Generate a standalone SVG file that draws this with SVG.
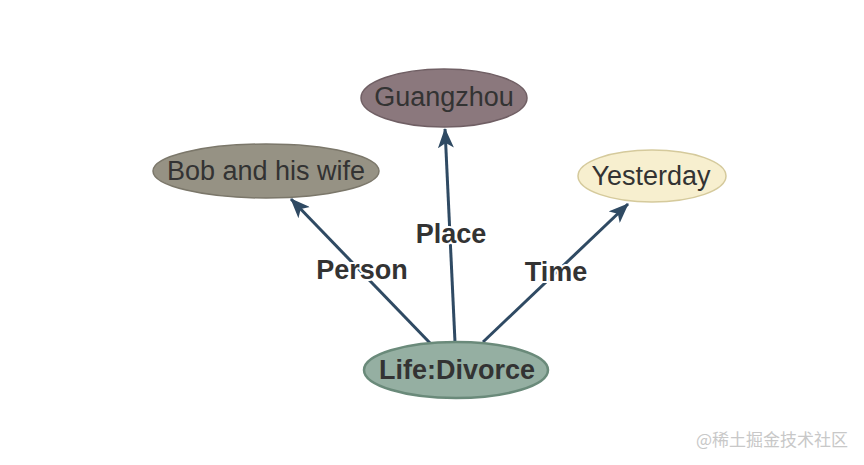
<svg xmlns="http://www.w3.org/2000/svg" width="864" height="465" viewBox="0 0 864 465">
<style>
.edge{stroke:#2f4a63;stroke-width:3;fill:none}
.nt{font-family:"Liberation Sans",Arial,sans-serif;font-size:27px;fill:#333;text-anchor:middle;dominant-baseline:central}
.el{font-family:"Liberation Sans",Arial,sans-serif;font-size:27px;font-weight:bold;fill:#333;text-anchor:middle;dominant-baseline:central;stroke:#fff;stroke-width:4;paint-order:stroke}
.wm{font-family:"Noto Sans CJK SC",sans-serif;font-size:17px;fill:#c8c8c8}
</style>
<defs>
<marker id="a" viewBox="0 0 20 16" refX="19" refY="8" markerWidth="20" markerHeight="16" markerUnits="userSpaceOnUse" orient="auto">
<path d="M0,0 L20,8 L0,16 L5,8 Z" fill="#2f4a63"/>
</marker>
</defs>
<rect width="864" height="465" fill="#fff"/>
<g id="connectors">
<line class="edge" x1="430" y1="343" x2="291" y2="199" marker-end="url(#a)"/>
<line class="edge" x1="455" y1="342" x2="445" y2="129" marker-end="url(#a)"/>
<line class="edge" x1="483" y1="342" x2="628" y2="204" marker-end="url(#a)"/>
<text class="el" x="362" y="270">Person</text>
<text class="el" x="451" y="234">Place</text>
<text class="el" x="556" y="272">Time</text>
</g>
<g id="node-bob">
<ellipse cx="266" cy="171" rx="113" ry="27" fill="#969284" stroke="#7b776a" stroke-width="1.5"/>
<text class="nt" x="266" y="171">Bob and his wife</text>
</g>
<g id="node-guangzhou">
<ellipse cx="444" cy="98" rx="83" ry="29" fill="#8b787d" stroke="#705f64" stroke-width="1.5"/>
<text class="nt" x="444" y="97">Guangzhou</text>
</g>
<g id="node-yesterday">
<ellipse cx="652" cy="176" rx="74" ry="26" fill="#f7efcf" stroke="#d5ca9c" stroke-width="1.5"/>
<text class="nt" x="651" y="176">Yesterday</text>
</g>
<g id="node-life">
<ellipse cx="456" cy="370" rx="92" ry="28" fill="#95afa2" stroke="#6a8a7a" stroke-width="2.5"/>
<text class="nt" x="457" y="370" font-weight="bold">Life:Divorce</text>
</g>
<text class="wm" x="848" y="446" text-anchor="end">@稀土掘金技术社区</text>
</svg>
